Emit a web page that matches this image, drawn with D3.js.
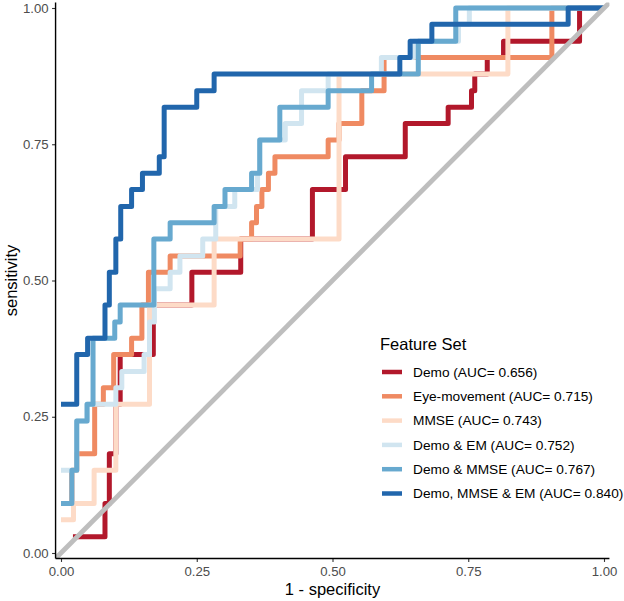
<!DOCTYPE html>
<html>
<head>
<meta charset="utf-8">
<script src="https://cdn.jsdelivr.net/npm/d3@7"></script>
<style>
  body { margin: 0; background: #fff; }
  text { font-family: "Liberation Sans", Arial, sans-serif; }
</style>
</head>
<body>
<div id="chart"></div>
<script>
// ROC points (1 - specificity, sensitivity)
const rocDemo = [[0.022,0.030],[0.081,0.030],[0.081,0.091],[0.089,0.091],[0.089,0.182],[0.101,0.182],[0.101,0.273],[0.109,0.273],[0.109,0.364],[0.170,0.364],[0.170,0.455],[0.241,0.455],[0.241,0.515],[0.331,0.515],[0.331,0.576],[0.463,0.576],[0.463,0.667],[0.524,0.667],[0.524,0.727],[0.634,0.727],[0.634,0.788],[0.713,0.788],[0.713,0.818],[0.756,0.818],[0.756,0.848],[0.762,0.848],[0.762,0.879],[0.785,0.879],[0.785,0.909],[0.815,0.909],[0.815,0.939],[0.955,0.939],[0.955,1],[1,1]]
const rocEye = [[0,0.091],[0.020,0.091],[0.020,0.152],[0.029,0.152],[0.029,0.182],[0.062,0.182],[0.062,0.273],[0.078,0.273],[0.078,0.303],[0.097,0.303],[0.097,0.364],[0.130,0.364],[0.130,0.394],[0.149,0.394],[0.149,0.455],[0.161,0.455],[0.161,0.515],[0.201,0.515],[0.201,0.545],[0.330,0.545],[0.330,0.576],[0.351,0.576],[0.351,0.606],[0.360,0.606],[0.360,0.636],[0.370,0.636],[0.370,0.667],[0.382,0.667],[0.382,0.697],[0.394,0.697],[0.394,0.727],[0.492,0.727],[0.492,0.758],[0.512,0.758],[0.512,0.788],[0.554,0.788],[0.554,0.848],[0.595,0.848],[0.595,0.909],[0.904,0.909],[0.904,1],[1,1]]
const rocMMSE = [[0,0.061],[0.023,0.061],[0.023,0.091],[0.061,0.091],[0.061,0.152],[0.101,0.152],[0.101,0.273],[0.163,0.273],[0.163,0.455],[0.282,0.455],[0.282,0.576],[0.512,0.576],[0.512,0.879],[0.823,0.879],[0.823,1],[1,1]]
const rocDemoEM = [[0,0.152],[0.029,0.152],[0.029,0.242],[0.048,0.242],[0.048,0.273],[0.101,0.273],[0.101,0.303],[0.112,0.303],[0.112,0.333],[0.153,0.333],[0.153,0.364],[0.163,0.364],[0.163,0.424],[0.172,0.424],[0.172,0.485],[0.201,0.485],[0.201,0.515],[0.219,0.515],[0.219,0.545],[0.261,0.545],[0.261,0.576],[0.285,0.576],[0.285,0.636],[0.320,0.636],[0.320,0.667],[0.362,0.667],[0.362,0.697],[0.366,0.697],[0.366,0.758],[0.413,0.758],[0.413,0.788],[0.443,0.788],[0.443,0.848],[0.492,0.848],[0.492,0.879],[0.590,0.879],[0.590,0.909],[0.650,0.909],[0.650,0.939],[0.732,0.939],[0.732,0.970],[0.752,0.970],[0.752,1],[1,1]]
const rocDemoMMSE = [[0,0.091],[0.020,0.091],[0.020,0.152],[0.029,0.152],[0.029,0.242],[0.048,0.242],[0.048,0.273],[0.059,0.273],[0.059,0.394],[0.099,0.394],[0.099,0.424],[0.109,0.424],[0.109,0.455],[0.171,0.455],[0.171,0.576],[0.201,0.576],[0.201,0.606],[0.282,0.606],[0.282,0.636],[0.302,0.636],[0.302,0.667],[0.351,0.667],[0.351,0.697],[0.366,0.697],[0.366,0.758],[0.403,0.758],[0.403,0.818],[0.492,0.818],[0.492,0.848],[0.572,0.848],[0.572,0.879],[0.658,0.879],[0.658,0.939],[0.727,0.939],[0.727,1],[1,1]]
const rocAll = [[0,0.273],[0.029,0.273],[0.029,0.364],[0.049,0.364],[0.049,0.394],[0.081,0.394],[0.081,0.455],[0.089,0.455],[0.089,0.515],[0.101,0.515],[0.101,0.576],[0.110,0.576],[0.110,0.636],[0.130,0.636],[0.130,0.667],[0.150,0.667],[0.150,0.697],[0.181,0.697],[0.181,0.727],[0.190,0.727],[0.190,0.818],[0.250,0.818],[0.250,0.848],[0.282,0.848],[0.282,0.879],[0.624,0.879],[0.624,0.909],[0.643,0.909],[0.643,0.939],[0.683,0.939],[0.683,0.970],[0.934,0.970],[0.934,1],[1,1]]

const featureSets = ["Demo", "Eye-movement", "MMSE", "Demo & EM", "Demo & MMSE", "Demo, MMSE & EM"]
const aucValues = [0.656, 0.715, 0.743, 0.752, 0.767, 0.840]
const rocCurves = [rocDemo, rocEye, rocMMSE, rocDemoEM, rocDemoMMSE, rocAll]
const tickValues = [0, 0.25, 0.5, 0.75, 1]

// RdBu colours, one per feature set
const colors = ["#B2182B", "#EF8A62", "#FDDBC7", "#D1E5F0", "#67A9CF", "#2166AC"]

let width = 624
let height = 601

let svg = d3.select("#chart")
  .append("svg")
  .attr("width", width)
  .attr("height", height)

// scales: data 0..1, panel padded a little on each side
let x = d3.scaleLinear().domain([0, 1]).range([61, 604])
let y = d3.scaleLinear().domain([0, 1]).range([553, 8])
let panelLeft = x(-0.01), panelRight = x(1.01), panelTop = y(1.01), panelBottom = y(-0.01)

svg.append("clipPath").attr("id", "panel")
  .append("rect")
  .attr("x", panelLeft).attr("y", panelTop)
  .attr("width", panelRight - panelLeft).attr("height", panelBottom - panelTop)

let plot = svg.append("g").attr("clip-path", "url(#panel)")

let line = d3.line()
  .x(d => x(d[0]))
  .y(d => y(d[1]))

plot.selectAll("path.roc")
  .data(rocCurves)
  .enter()
  .append("path")
  .attr("class", "roc")
  .attr("d", line)
  .attr("fill", "none")
  .attr("stroke", (d, i) => colors[i])
  .attr("stroke-width", 5)
  .attr("stroke-linejoin", "round")
  .attr("stroke-linecap", "butt")

// chance line across the whole panel
plot.append("line")
  .attr("x1", x(-0.01)).attr("y1", y(-0.01))
  .attr("x2", x(1.01)).attr("y2", y(1.01))
  .attr("stroke", "#BEBEBE")
  .attr("stroke-width", 4.8)

// axes
let xAxis = svg.append("g")
  .attr("transform", `translate(0,${panelBottom})`)
  .call(d3.axisBottom(x).tickValues(tickValues).tickFormat(d3.format(".2f")).tickSize(3.5).tickPadding(5))
let yAxis = svg.append("g")
  .attr("transform", `translate(${panelLeft},0)`)
  .call(d3.axisLeft(y).tickValues(tickValues).tickFormat(d3.format(".2f")).tickSize(3.5).tickPadding(3.5))

;[xAxis, yAxis].forEach(g => {
  g.select(".domain").remove()
  g.selectAll(".tick line").attr("stroke", "#333").attr("stroke-width", 1.1)
  g.selectAll(".tick text")
    .attr("fill", "#4D4D4D")
    .style("font-size", "13.2px")
    .style("font-family", "'Liberation Sans', Arial, sans-serif")
})

svg.append("line")
  .attr("x1", panelLeft).attr("x2", panelRight)
  .attr("y1", panelBottom).attr("y2", panelBottom)
  .attr("stroke", "#000").attr("stroke-width", 1.4)
svg.append("line")
  .attr("x1", panelLeft).attr("x2", panelLeft)
  .attr("y1", panelTop).attr("y2", panelBottom)
  .attr("stroke", "#000").attr("stroke-width", 1.4)

// axis titles
svg.append("text")
  .attr("x", x(0.5))
  .attr("y", 595)
  .attr("text-anchor", "middle")
  .style("font-size", "16.5px")
  .text("1 - specificity")

svg.append("text")
  .attr("transform", `translate(17,${y(0.5)}) rotate(-90)`)
  .attr("text-anchor", "middle")
  .style("font-size", "16.5px")
  .text("sensitivity")

// legend
let legend = svg.append("g").attr("transform", "translate(380,0)")

legend.append("text")
  .attr("x", 0)
  .attr("y", 350)
  .style("font-size", "16.5px")
  .text("Feature Set")

let items = legend.selectAll("g.item")
  .data(featureSets)
  .enter()
  .append("g")
  .attr("class", "item")
  .attr("transform", (d, i) => `translate(0,${372 + i * 24.3})`)

items.append("line")
  .attr("x1", 2).attr("x2", 22)
  .attr("stroke", (d, i) => colors[i])
  .attr("stroke-width", 4.5)

items.append("text")
  .attr("x", 33)
  .attr("dy", "0.35em")
  .style("font-size", "13.7px")
  .text((d, i) => `${d} (AUC= ${aucValues[i].toFixed(3)})`)
</script>
</body>
</html>
